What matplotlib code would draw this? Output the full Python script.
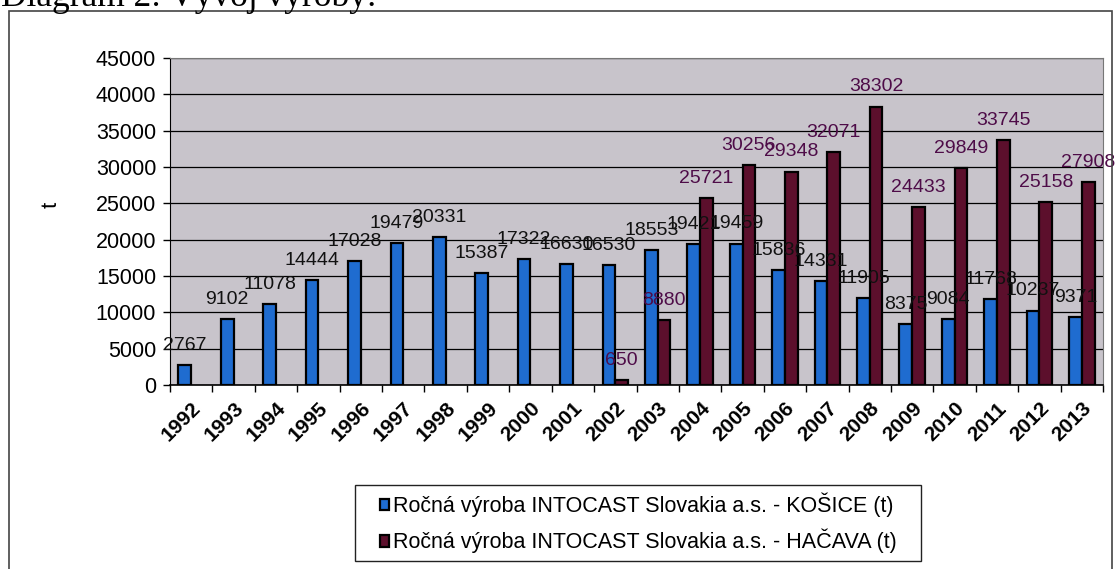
import matplotlib
matplotlib.use("Agg")
import matplotlib.pyplot as plt
import numpy as np
from matplotlib.patches import Rectangle, Patch

years = ["1992", "1993", "1994", "1995", "1996", "1997", "1998", "1999", "2000", "2001", "2002",
         "2003", "2004", "2005", "2006", "2007", "2008", "2009", "2010", "2011", "2012", "2013"]
kosice = [2767, 9102, 11078, 14444, 17028, 19479, 20331, 15387, 17322, 16630, 16530,
          18553, 19421, 19459, 15836, 14331, 11905, 8375, 9084, 11768, 10237, 9371]
hacava = [None, None, None, None, None, None, None, None, None, None, 650,
          8880, 25721, 30256, 29348, 32071, 38302, 24433, 29849, 33745, 25158, 27908]
yticks = [0, 5000, 10000, 15000, 20000, 25000, 30000, 35000, 40000, 45000]
label_k = "Ročná výroba INTOCAST Slovakia a.s. - KOŠICE (t)"
label_h = "Ročná výroba INTOCAST Slovakia a.s. - HAČAVA (t)"

plt.rcParams['font.family'] = ['Liberation Sans', 'DejaVu Sans']

W, H = 1118, 569
fig = plt.figure(figsize=(W / 100, H / 100), dpi=100)
fig.patch.set_facecolor('white')

def fx(px):
    return px / W

def fy(py):
    return 1 - py / H

# outer frame
fig.patches.append(Rectangle((fx(9), fy(575)), fx(1112 - 9), (575 - 11) / H, transform=fig.transFigure,
                             fill=False, edgecolor='#444444', linewidth=1.2))
fig.text(fx(1), fy(6), "Diagram 2: Vývoj výroby:", family=['Liberation Serif', 'DejaVu Serif'],
         fontsize=25.5, va='baseline', ha='left')

ax = fig.add_axes([fx(170), fy(385), fx(1103 - 170), (385 - 58) / H])
ax.set_facecolor('#c8c4cb')

x = np.arange(len(years))
w = 0.3
blue = '#1f6cd0'
maroon = '#5c0f2c'
hx = [x[i] for i, v in enumerate(hacava) if v is not None]
hv = [v for v in hacava if v is not None]
ax.bar(x - w / 2, kosice, width=w, color=blue, edgecolor='black', linewidth=1.6, zorder=3)
ax.bar(np.array(hx) + w / 2, hv, width=w, color=maroon, edgecolor='black', linewidth=1.6, zorder=3)

for i, v in enumerate(kosice):
    ax.annotate(str(v), (x[i] - w / 2, v), xytext=(0, 11), textcoords='offset points',
                ha='center', va='baseline', fontsize=14, color='#111111', zorder=4)
for xi, v in zip(hx, hv):
    ax.annotate(str(v), (xi + w / 2, v), xytext=(0, 11), textcoords='offset points',
                ha='center', va='baseline', fontsize=14, color='#4e0c48', zorder=4)

ax.set_xlim(-0.5, len(years) - 0.5)
ax.set_ylim(0, 45000)
ax.set_yticks(yticks)
ax.set_yticklabels([str(t) for t in yticks], fontsize=15.5)
ax.yaxis.grid(True, color='black', linewidth=0.9, zorder=1)
ax.set_axisbelow(True)
ax.set_xticks(x)
ax.set_xticklabels(years, rotation=45, ha='right', rotation_mode='anchor', fontsize=15, fontweight='bold')
ax.set_xticks(np.arange(-0.5, len(years)), minor=True)
ax.tick_params(axis='x', which='major', length=0, pad=10)
ax.tick_params(axis='x', which='minor', length=5, width=1)
ax.tick_params(axis='y', length=5, width=1, pad=5)
for s in ['top', 'right']:
    ax.spines[s].set_color('#777777')
ax.spines['left'].set_color('black')
ax.spines['bottom'].set_color('black')
ax.spines['bottom'].set_linewidth(1.2)
ax.set_ylabel('t', fontsize=16)
ax.yaxis.set_label_coords((62 - 170) / (1103 - 170), (385 - 205) / (385 - 58))

# legend
fig.patches.append(Rectangle((fx(355), fy(561)), fx(921 - 355), (561 - 485) / H, transform=fig.transFigure,
                             fill=False, edgecolor='#222222', linewidth=1.0))
handles = [Patch(facecolor=blue, edgecolor='black', linewidth=1.6, label=label_k),
           Patch(facecolor=maroon, edgecolor='black', linewidth=1.6, label=label_h)]
fig.legend(handles=handles, loc='center', bbox_to_anchor=(fx(638), fy(523)), frameon=False,
           fontsize=15.5, handlelength=0.45, handleheight=0.45, handletextpad=0.15,
           labelspacing=0.55, borderpad=0)

fig.savefig('out.png', dpi=100)
